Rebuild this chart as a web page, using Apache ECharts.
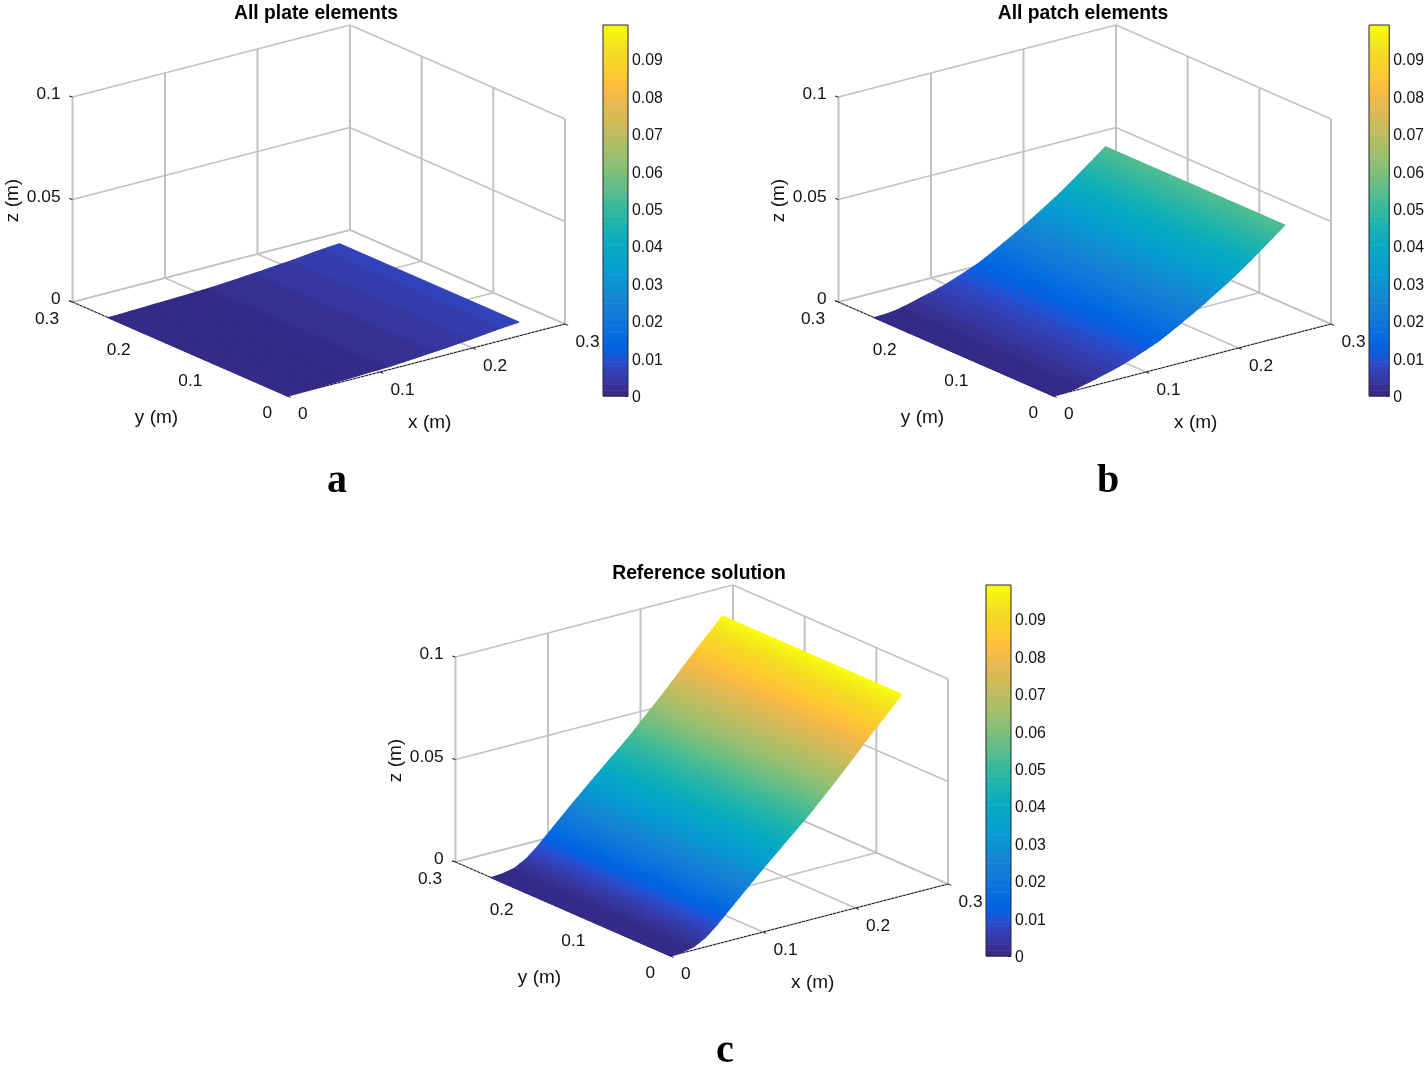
<!DOCTYPE html>
<html>
<head>
<meta charset="utf-8">
<style>html,body{margin:0;padding:0;background:#fff}#c{width:1427px;height:1070px}</style>
<script src="https://cdn.jsdelivr.net/npm/echarts@6/dist/echarts.min.js"></script>
</head>
<body>
<div id="c"></div>
<script>
// ---- data ----
var xStations = [0,0.0125,0.025,0.0375,0.05,0.0625,0.075,0.0875,0.1,0.1125,0.125,0.1375,0.15,0.1625,0.175,0.1875,0.2,0.2125,0.225,0.2375,0.25];
var plateZ = [0,0.0001,0.0003,0.0004,0.0006,0.0008,0.0010,0.0012,0.0014,0.0016,0.0020,0.0024,0.0028,0.0032,0.0037,0.0042,0.0047,0.0053,0.0059,0.0064,0.0068];
var patchZ = [0,0.0002,0.0009,0.0022,0.0037,0.0051,0.0068,0.0088,0.0110,0.0133,0.0162,0.0194,0.0226,0.0259,0.0296,0.0332,0.0370,0.0411,0.0454,0.0497,0.0541];
var referenceZ = [0,0.0004,0.0016,0.0046,0.0093,0.0148,0.0203,0.0257,0.0310,0.0362,0.0414,0.0465,0.0517,0.0574,0.0631,0.0688,0.0748,0.0809,0.0867,0.0925,0.0984];
var yEdges = [0,0.25];
var xTicks = [0,0.1,0.2,0.3];
var yTicks = [0,0.1,0.2,0.3];
var zTicks = [0,0.05,0.1];
var xTickLabels = ['0','0.1','0.2','0.3'];
var yTickLabels = ['0','0.1','0.2','0.3'];
var zTickLabels = ['0','0.05','0.1'];
var titles = ['All plate elements','All patch elements','Reference solution'];
var letters = ['a','b','c'];
var colorMax = 0.099;
var parula = [[.2081,.1663,.5292],[.2116,.1898,.5777],[.2123,.2138,.6270],[.2081,.2386,.6771],[.1959,.2645,.7279],[.1707,.2919,.7792],[.1253,.3242,.8303],[.0591,.3598,.8683],[.0117,.3875,.8820],[.0060,.4086,.8828],[.0165,.4266,.8786],[.0329,.4430,.8720],[.0498,.4586,.8641],[.0629,.4737,.8554],[.0723,.4887,.8467],[.0779,.5040,.8384],[.0793,.5200,.8312],[.0749,.5375,.8263],[.0641,.5570,.8240],[.0488,.5772,.8228],[.0343,.5966,.8199],[.0265,.6137,.8135],[.0239,.6287,.8038],[.0231,.6418,.7913],[.0228,.6535,.7768],[.0267,.6642,.7607],[.0384,.6743,.7436],[.0590,.6838,.7254],[.0843,.6928,.7062],[.1133,.7015,.6859],[.1453,.7098,.6646],[.1801,.7177,.6424],[.2178,.7250,.6193],[.2586,.7317,.5954],[.3022,.7376,.5712],[.3482,.7424,.5473],[.3953,.7459,.5244],[.4420,.7481,.5033],[.4871,.7491,.4840],[.5300,.7491,.4661],[.5709,.7485,.4494],[.6099,.7473,.4337],[.6473,.7456,.4188],[.6834,.7435,.4044],[.7184,.7411,.3905],[.7525,.7384,.3768],[.7858,.7356,.3633],[.8185,.7327,.3498],[.8507,.7299,.3360],[.8824,.7274,.3217],[.9139,.7258,.3063],[.9450,.7261,.2886],[.9739,.7314,.2666],[.9938,.7455,.2403],[.9990,.7653,.2164],[.9955,.7861,.1967],[.9880,.8066,.1794],[.9789,.8271,.1633],[.9697,.8481,.1475],[.9626,.8705,.1309],[.9589,.8949,.1132],[.9598,.9218,.0948],[.9661,.9514,.0755],[.9763,.9831,.0538]];
var panelSurfaces = [plateZ, patchZ, referenceZ];

// ---- layout ----
var FONT = '"Liberation Sans", Arial, sans-serif';
var GREY = '#c2c2c2', INK = '#1a1a1a';
var panels = [{dx:0,dy:0},{dx:766,dy:0},{dx:383,dy:560}];
var NL = parula.length;
function rgb(i){var c=parula[i];return 'rgb('+Math.round(c[0]*255)+','+Math.round(c[1]*255)+','+Math.round(c[2]*255)+')';}
// orthographic view: projected units are screen pixels relative to the (0,0,0) corner
function project(x,y,z){ return [925*x - 716.7*y, 240*x + 313.3*y + 2050*z]; }

var grids=[], xAxes=[], yAxes=[], series=[], titleList=[];

panels.forEach(function(p,idx){
  var g3 = grids.length;
  grids.push({left:57.5+p.dx, top:21+p.dy, width:520, height:385});
  xAxes.push({gridIndex:g3,type:'value',min:-230,max:290,show:false});
  yAxes.push({gridIndex:g3,type:'value',min:-10,max:375,show:false});
  var gc = grids.length;
  grids.push({left:603+p.dx, top:25+p.dy, width:25, height:371});
  xAxes.push({gridIndex:gc,type:'value',min:0,max:1,show:false});
  yAxes.push({gridIndex:gc,type:'value',min:0,max:colorMax,interval:0.01,position:'right',
    axisLine:{show:false,onZero:false},splitLine:{show:false},
    axisTick:{show:true,inside:true,length:3,lineStyle:{color:INK,width:1}},
    axisLabel:{show:true,showMaxLabel:false,margin:4,color:'#111',fontFamily:FONT,fontSize:15.8,verticalAlign:'top',lineHeight:4,
      formatter:function(v){return String(+v.toFixed(2));}}});

  // 3D box lines
  var Xm=xTicks[xTicks.length-1], Ym=yTicks[yTicks.length-1], Zm=zTicks[zTicks.length-1];
  var lines=[];
  xTicks.forEach(function(x){ lines.push([x,0,0,x,Ym,0]); lines.push([x,Ym,0,x,Ym,Zm]); });
  yTicks.forEach(function(y){ lines.push([0,y,0,Xm,y,0]); lines.push([Xm,y,0,Xm,y,Zm]); });
  zTicks.forEach(function(z){ lines.push([0,Ym,z,Xm,Ym,z]); lines.push([Xm,0,z,Xm,Ym,z]); });
  series.push({type:'custom',coordinateSystem:'cartesian2d',xAxisIndex:g3,yAxisIndex:g3,silent:true,clip:false,animation:false,z:2,
    data:lines,
    renderItem:function(params,api){
      var a=api.coord(project(api.value(0),api.value(1),api.value(2)));
      var b=api.coord(project(api.value(3),api.value(4),api.value(5)));
      var vertical=api.value(0)===api.value(3)&&api.value(1)===api.value(4);
      return {type:'line',shape:{x1:a[0],y1:a[1],x2:b[0],y2:b[1]},style:{stroke:GREY,lineWidth:vertical?2:1.5,fill:null}};
    }});

  // black axes along the floor's front edges, with ticks
  var axisSegs=[[0,0,0,Xm,0,0],[0,0,0,0,Ym,0]];
  series.push({type:'custom',coordinateSystem:'cartesian2d',xAxisIndex:g3,yAxisIndex:g3,silent:true,clip:false,animation:false,z:3,
    data:axisSegs,
    renderItem:function(params,api){
      var a=api.coord(project(api.value(0),api.value(1),api.value(2)));
      var b=api.coord(project(api.value(3),api.value(4),api.value(5)));
      return {type:'line',shape:{x1:a[0],y1:a[1],x2:b[0],y2:b[1]},style:{stroke:INK,lineWidth:1,lineDash:[3,1],fill:null}};
    }});
  var tickRows=[];
  xTicks.forEach(function(x){tickRows.push([x,0,0,0]);});
  yTicks.forEach(function(y){tickRows.push([0,y,0,1]);});
  zTicks.forEach(function(z){tickRows.push([0,Ym,z,2]);});
  series.push({type:'custom',coordinateSystem:'cartesian2d',xAxisIndex:g3,yAxisIndex:g3,silent:true,clip:false,animation:false,z:3,
    data:tickRows,
    renderItem:function(params,api){
      var a=api.coord(project(api.value(0),api.value(1),api.value(2)));
      var k=api.value(3);
      var d= k===0?[3.2,1.4]: k===1?[-3.2,-1.3]:[-3.4,-1];
      return {type:'line',shape:{x1:a[0],y1:a[1],x2:a[0]+d[0],y2:a[1]+d[1]},style:{stroke:INK,lineWidth:1,fill:null}};
    }});

  // the surface: every facet between two x stations, painted in colormap levels
  var Z=panelSurfaces[idx], facets=[];
  for(var i=0;i<xStations.length-1;i++) facets.push([xStations[i],xStations[i+1],Z[i],Z[i+1]]);
  series.push({type:'custom',coordinateSystem:'cartesian2d',xAxisIndex:g3,yAxisIndex:g3,silent:true,clip:false,animation:false,z:5,
    data:facets,
    renderItem:function(params,api){
      var x0=api.value(0),x1=api.value(1),z0=api.value(2),z1=api.value(3);
      var y0=yEdges[0],y1=yEdges[1];
      var step=colorMax/NL, kids=[];
      var lo=Math.max(0,Math.floor(z0/step)), hi=Math.min(NL-1,Math.floor(z1/step));
      for(var k=lo;k<=hi;k++){
        var zA=Math.max(z0,k*step), zB=Math.min(z1,(k+1)*step);
        if(zB<=zA && z1>z0) continue;
        var tA=z1>z0?(zA-z0)/(z1-z0):0, tB=z1>z0?(zB-z0)/(z1-z0):1;
        var xA=x0+(x1-x0)*tA, xB=x0+(x1-x0)*tB;
        var pts=[[xA,y0,zA],[xB,y0,zB],[xB,y1,zB],[xA,y1,zA]].map(function(q){return api.coord(project(q[0],q[1],q[2]));});
        kids.push({type:'polygon',shape:{points:pts},style:{fill:rgb(k),stroke:rgb(k),lineWidth:1.2,lineJoin:'round'}});
      }
      return {type:'group',children:kids};
    }});

  // tick labels and axis names as text placed from 3D anchors
  var labelRows=[], labelTexts=[];
  xTicks.forEach(function(x,i){labelRows.push([x,0,0,0]);labelTexts.push(xTickLabels[i]);});
  yTicks.forEach(function(y,i){labelRows.push([0,y,0,1]);labelTexts.push(yTickLabels[i]);});
  zTicks.forEach(function(z,i){labelRows.push([0,Ym,z,2]);labelTexts.push(zTickLabels[i]);});
  labelRows.push([0.15,0,0,3]);labelTexts.push('x (m)');
  labelRows.push([0,0.15,0,4]);labelTexts.push('y (m)');
  labelRows.push([0,Ym,0.05,5]);labelTexts.push('z (m)');
  series.push({type:'custom',coordinateSystem:'cartesian2d',xAxisIndex:g3,yAxisIndex:g3,silent:true,clip:false,animation:false,z:6,
    data:labelRows,
    renderItem:function(params,api){
      var a=api.coord(project(api.value(0),api.value(1),api.value(2)));
      var k=api.value(3), t=labelTexts[params.dataIndex];
      var off=[[10.5,18.5,'left'],[-13.5,17,'right'],[-12,-2.5,'right'],[3.5,63,'center'],[-23.5,69,'center'],[-60,1,'center']][k];
      var nudge=(k===1&&t==='0')?-2:0;
      var el={type:'text',x:a[0]+off[0]+nudge,y:a[1]+off[1],
        style:{text:t,fill:'#111',font:(k>=3?19:17.3)+'px '+FONT,textAlign:off[2],textVerticalAlign:'middle'}};
      if(k===5){el.rotation=Math.PI/2;}
      return el;
    }});

  // colorbar
  var cbRows=parula.map(function(c,i){return [i];});
  series.push({type:'custom',coordinateSystem:'cartesian2d',xAxisIndex:gc,yAxisIndex:gc,silent:true,clip:false,animation:false,z:2,
    data:cbRows,
    renderItem:function(params,api){
      var k=api.value(0), s=colorMax/NL;
      var a=api.coord([0,(k+1)*s]), b=api.coord([1,k*s]);
      return {type:'rect',shape:{x:a[0],y:a[1],width:b[0]-a[0],height:b[1]-a[1]+0.5},style:{fill:rgb(k)}};
    }});
  series.push({type:'custom',coordinateSystem:'cartesian2d',xAxisIndex:gc,yAxisIndex:gc,silent:true,clip:false,animation:false,z:3,
    data:[[0,colorMax,1,0]],
    renderItem:function(params,api){
      var a=api.coord([api.value(0),api.value(1)]), b=api.coord([api.value(2),api.value(3)]);
      return {type:'rect',shape:{x:a[0],y:a[1],width:b[0]-a[0],height:b[1]-a[1]},style:{fill:null,stroke:'#262626',lineWidth:1}};
    }});

  titleList.push({text:titles[idx],left:[316,1083,699][idx],top:4+p.dy,padding:0,textAlign:'center',
    textStyle:{fontFamily:FONT,fontWeight:'bold',fontSize:19.3,color:'#000'}});
  titleList.push({text:letters[idx],left:[337,1108,725][idx],top:[461.5,461.5,1031.5][idx],padding:0,textAlign:'center',
    textStyle:{fontFamily:'"Liberation Serif", "Times New Roman", serif',fontWeight:'bold',fontSize:40,color:'#000'}});
});

var chart=echarts.init(document.getElementById('c'),null,{renderer:'canvas',width:1427,height:1070});
chart.setOption({animation:false,backgroundColor:'#fff',title:titleList,grid:grids,xAxis:xAxes,yAxis:yAxes,series:series,tooltip:{show:false},legend:{show:false}});
</script>
</body>
</html>
